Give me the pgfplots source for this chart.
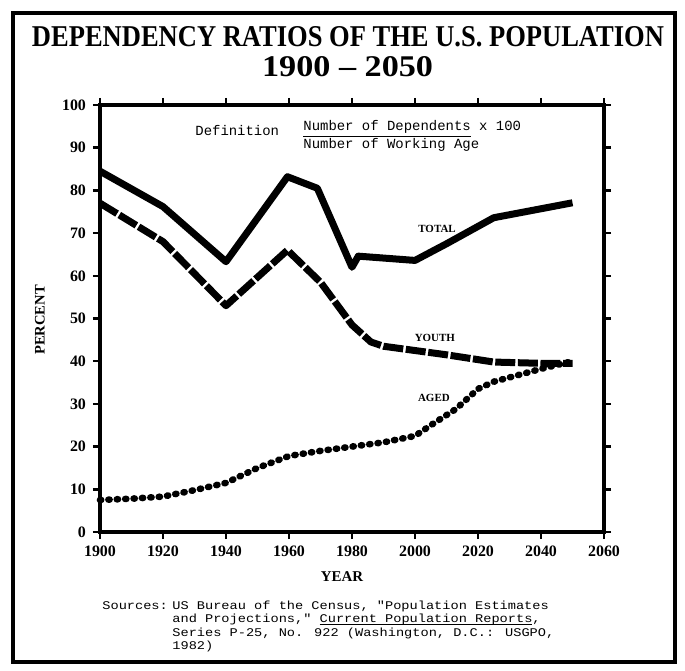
\documentclass[border=0pt]{standalone}
\usepackage{graphicx}
\usepackage{pgfplots}
\pgfplotsset{compat=1.18}
\usepackage{fontspec}
\setmainfont{Liberation Serif}
\newfontfamily\monofont{Liberation Mono}
\newfontfamily\srcfont[FakeStretch=1.16]{Liberation Mono}
\newcommand\ul[1]{\setbox0\hbox{#1}\rlap{\rule[-0.8bp]{\wd0}{0.35bp}}\box0}
\begin{document}
\begin{tikzpicture}[x=1bp,y=1bp]
\useasboundingbox (-50,-69.5) rectangle (292.5,266);
\begin{axis}[
  at={(0,0)}, anchor=south west,
  scale only axis, width=252bp, height=213.5bp,
  xmin=1900, xmax=2060, ymin=0, ymax=100,
  xtick={1900,1920,...,2060}, ytick={0,10,...,100},
  tick align=outside, major tick length=3.5bp,
  tick style={line width=1.2bp, black},
  axis line style={line width=2.2bp},
  tick label style={font=\bfseries\fontsize{8}{9}\selectfont},
  /pgf/number format/assume math mode=true,
  /pgf/number format/1000 sep={},
  clip=false,
]
% TOTAL
\addplot[line width=3.5bp, line join=round] coordinates {
 (1900,84.5) (1920,76.2) (1940,63.3) (1959.5,83.2) (1969,80.5) (1980,62) (1982,64.6)
 (2000,63.6) (2010,67.5) (2025,73.6) (2050,77.1)};
% YOUTH
\addplot[line width=3.5bp, line join=round, dash pattern=on 10bp off 1.3bp] coordinates {
 (1900,77) (1920,68) (1940,53) (1959.5,66) (1970,58.5) (1980,48.5) (1986,44.5)
 (1990,43.5) (2000,42.5) (2010,41.5) (2025,39.8) (2040,39.5) (2050,39.5)};
% AGED
\addplot[line width=3.3bp, line cap=round, line join=round, dash pattern=on 0.6bp off 3.6bp] coordinates {
 (1900,7.5) (1910,7.8) (1920,8.3) (1930,9.8) (1940,11.5) (1950,15) (1960,17.8)
 (1970,19) (1980,20) (1990,21) (2000,22.5) (2005,25) (2013,28.8) (2020,33.5)
 (2025,35.2) (2032,36.6) (2040,38.2) (2050,40)};
\node[font=\bfseries\fontsize{5.5}{6}\selectfont] at (axis cs:2007,71) {TOTAL};
\node[font=\bfseries\fontsize{5.5}{6}\selectfont] at (axis cs:2006.3,45.4) {YOUTH};
\node[font=\bfseries\fontsize{5.5}{6}\selectfont] at (axis cs:2006,31.3) {AGED};
\end{axis}
% frame
\draw[line width=2.2bp] (-43.5,-65) rectangle (287.5,259.5);
% title
\node[inner sep=0pt] at (124,247.5) {\resizebox{316bp}{10bp}{\bfseries DEPENDENCY RATIOS OF THE U.S. POPULATION}};
\node[inner sep=0pt] at (123.8,232.5) {\resizebox{85.5bp}{10bp}{\bfseries 1900 -- 2050}};
% definition
\node[anchor=west, inner sep=0pt, font=\monofont\fontsize{7}{8}\selectfont] at (47.5,200.5) {Definition};
\node[anchor=west, inner sep=0pt, font=\monofont\fontsize{7}{8}\selectfont] at (101.5,201.5) {\underline{Number of Dependents} x 100};
\node[anchor=west, inner sep=0pt, font=\monofont\fontsize{7}{8}\selectfont] at (101.5,193.5) {Number of Working Age};
% axis labels
\node[rotate=90, font=\bfseries\fontsize{7.3}{8}\selectfont] at (-30,106) {PERCENT};
\node[font=\bfseries\fontsize{7.5}{8}\selectfont] at (121,-22.5) {YEAR};
% source
\tikzset{src/.style={anchor=base west, font=\srcfont\fontsize{5.9}{6.5}\selectfont, inner sep=0pt}}
\node[src] at (1,-38.5) {Sources:};
\node[src] at (36,-38.5) {US Bureau of the Census, "Population Estimates};
\node[src] at (36,-45.3) {and Projections," \ul{Current Population Reports},};
\node[src] at (36,-52.1) {Series P-25, No. 922 (Washington, D.C.: USGPO,};
\node[src] at (36,-58.9) {1982)};
\end{tikzpicture}
\end{document}
